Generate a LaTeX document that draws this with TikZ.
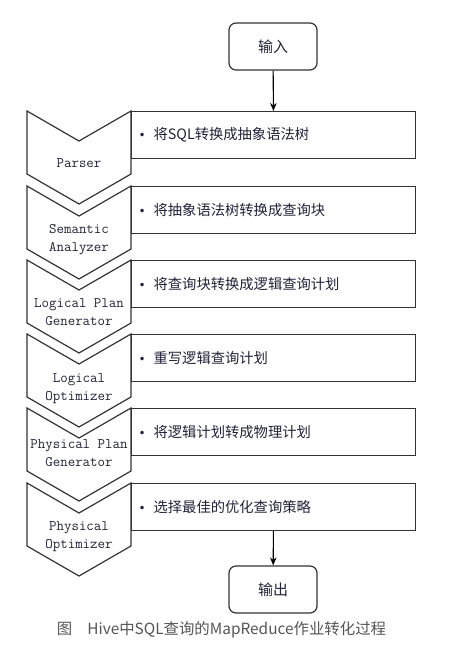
\documentclass[tikz,border=0pt]{standalone}
\usepackage{fontspec}
\newfontfamily\cjk{Noto Sans CJK SC}
\newfontfamily\dejavu{DejaVu Sans}
\usetikzlibrary{arrows.meta}
\definecolor{linec}{HTML}{333333}
\definecolor{labc}{HTML}{22223A}
\definecolor{capc}{HTML}{555555}
\newcommand{\bul}{\makebox[16pt][l]{\hspace{1pt}{\dejavu\fontsize{12}{14}\selectfont •}}}
\tikzset{
  chev/.style={draw=linec, line width=1.2pt, line join=miter},
  stagebox/.style={draw=linec, line width=1.2pt, minimum height=47pt, text width=272pt, inner xsep=6pt, inner ysep=0pt, align=left, font=\cjk\fontsize{14.3}{16}\selectfont, text=labc, anchor=north west},
  stagelab/.style={font=\ttfamily\fontsize{14.5}{18}\selectfont, text=labc, align=center, inner sep=0pt},
  termbox/.style={draw=linec, line width=1.2pt, rounded corners=7pt, minimum width=88pt, minimum height=47pt, font=\cjk\fontsize{15}{17}\selectfont, text=labc, inner sep=0pt},
  flow/.style={draw=black, line width=1.1pt, -{Stealth[length=8pt,width=6.5pt]}},
}
\begin{document}
\begin{tikzpicture}[x=1pt,y=-1pt]
\useasboundingbox (0,0) rectangle (463,646);
% chevrons
\foreach \t in {111,186,260,334,408,483}{
  \draw[chev] (27,\t) -- (79,\t+30) -- (131,\t) -- (131,\t+63) -- (79,\t+93) -- (27,\t+63) -- cycle;
}
% stage boxes
\node[stagebox] (r1) at (131,111) {\bul 将SQL转换成抽象语法树};
\node[stagebox] (r2) at (131,186) {\bul 将抽象语法树转换成查询块};
\node[stagebox] (r3) at (131,260) {\bul 将查询块转换成逻辑查询计划};
\node[stagebox] (r4) at (131,334) {\bul 重写逻辑查询计划};
\node[stagebox] (r5) at (131,408) {\bul 将逻辑计划转成物理计划};
\node[stagebox] (r6) at (131,483) {\bul 选择最佳的优化查询策略};
% labels
\node[stagelab] (l1) at (79,163) {Parser};
\node[stagelab] (l2) at (79,240) {Semantic\\Analyzer};
\node[stagelab] (l3) at (79,312) {Logical Plan\\Generator};
\node[stagelab] (l4) at (79,388.5) {Logical\\Optimizer};
\node[stagelab] (l5) at (79,453.5) {Physical Plan\\Generator};
\node[stagelab] (l6) at (79,537) {Physical\\Optimizer};
% terminals
\node[termbox] (in) at (273,46.5) {输入};
\node[termbox] (out) at (273,589.5) {输出};
\draw[flow] (in) -- (r1);
\draw[flow] (r6) -- (out);
% caption
\node[font=\cjk\fontsize{15.4}{17}\selectfont, text=capc, inner sep=0pt] (cap) at (221.5,630) {图\hspace{15pt}Hive中SQL查询的MapReduce作业转化过程};
\end{tikzpicture}
\end{document}
